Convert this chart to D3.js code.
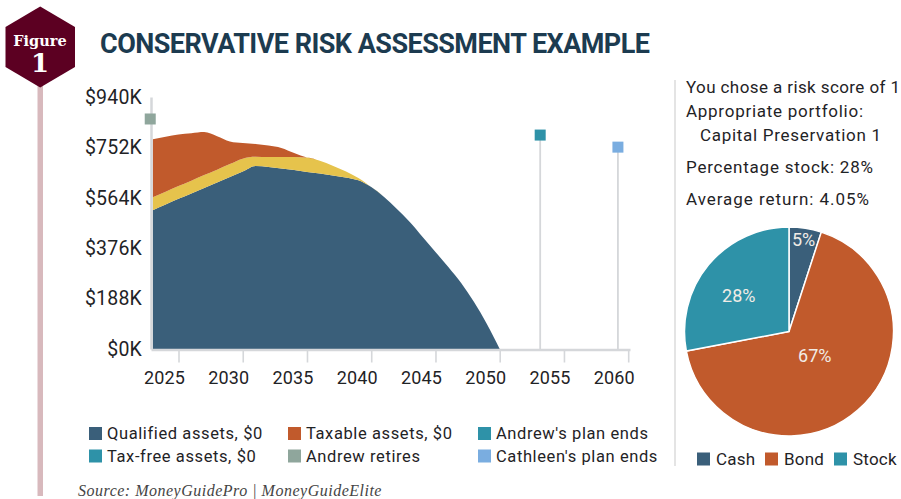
<!DOCTYPE html>
<html>
<head>
<meta charset="utf-8">
<script src="https://cdn.jsdelivr.net/npm/d3@7"></script>
<style>
body { margin: 0; background: #fff; }
svg { display: block; }
text { font-family: Roboto, sans-serif; fill: #1f2326; }
.axis text { font-size: 18px; letter-spacing: 0.1px; }
.legend text { font-size: 16.5px; letter-spacing: 0.6px; }
.note { font-size: 17px; }
</style>
</head>
<body>
<div id="chart"></div>
<script>
var years = [2023,2024,2025,2026,2027,2028,2029,2030,2031,2032,2033,2034,2035,2036,2037,2038,2039,2040,2041,2042,2043,2044,2045,2046,2047,2048,2049,2050];
var qualified = [518,539,560,580,601,621,642,662,683,679,673,668,660,655,647,640,629,604,567,522,474,418,362,306,246,175,93,0];
var taxFree = [48,48,48,48,48,48,48,48,34,37,43,48,54,47,37,23,9,0,0,0,0,0,0,0,0,0,0,0];
var taxable = [216,205,192,177,160,125,84,58,48,43,34,15,0,0,0,0,0,0,0,0,0,0,0,0,0,0,0,0];
var seriesKeys = ['qualified', 'taxFree', 'taxable'];
var yTicks = [0,188,376,564,752,940];
var xTicks = [2025,2030,2035,2040,2045,2050,2055,2060];
var eventNames = ['Andrew retires', "Andrew's plan ends", "Cathleen's plan ends"];
var eventYears = [2022.8, 2053.15, 2059.2];
var eventValues = [858, 798, 753];
var pieLabels = ['Cash', 'Bond', 'Stock'];
var pieValues = [5, 67, 28];
var noteLines = ['You chose a risk score of 1', 'Appropriate portfolio:', 'Capital Preservation 1', 'Percentage stock: 28%', 'Average return: 4.05%'];
var legendLabels = ['Qualified assets, $0', 'Taxable assets, $0', "Andrew's plan ends", 'Tax-free assets, $0', 'Andrew retires', "Cathleen's plan ends"];

var blue = '#3a5f7a', orange = '#c15a2c', yellow = '#e6c34c', teal = '#2e92a8', sage = '#8fa69c', sky = '#7aade0';
var axisGrey = '#d5d7da';

var svg = d3.select('#chart').append('svg')
	.attr('width', 901)
	.attr('height', 499);

// figure badge
svg.append('rect')
	.attr('x', 37.5).attr('y', 80)
	.attr('width', 5.5).attr('height', 416)
	.attr('fill', '#d8b9bd');

svg.append('path')
	.attr('d', 'M40.2,6.5L75,27V67L40.2,87.5L5.5,67V27Z')
	.attr('fill', '#5c0022');

svg.append('text')
	.attr('x', 40).attr('y', 46)
	.attr('text-anchor', 'middle')
	.style('font-family', 'DejaVu Serif')
	.style('font-weight', 'bold')
	.style('font-size', '14.5px')
	.style('fill', '#fff')
	.text('Figure');

svg.append('text')
	.attr('x', 40).attr('y', 72)
	.attr('text-anchor', 'middle')
	.style('font-family', 'DejaVu Serif')
	.style('font-weight', 'bold')
	.style('font-size', '26px')
	.style('fill', '#fff')
	.text('1');

svg.append('text')
	.attr('x', 100).attr('y', 53)
	.attr('textLength', 550)
	.style('font-size', '27px')
	.style('font-weight', 'bold')
	.style('fill', '#1c3b50')
	.text('CONSERVATIVE RISK ASSESSMENT EXAMPLE');

// main chart
var x = d3.scaleLinear().domain([2025, 2060]).range([178.5, 628.2]);
var y = d3.scaleLinear().domain([0, 940]).range([349, 97]);

var table = years.map(function(d, i) {
	return {year: d, qualified: qualified[i], taxFree: taxFree[i], taxable: taxable[i]};
});

var stacked = d3.stack().keys(seriesKeys)(table);
var areaColors = [blue, yellow, orange];

var area = d3.area()
	.curve(d3.curveMonotoneX)
	.x(function(d) { return x(d.data.year); })
	.y0(function(d) { return y(d[0]); })
	.y1(function(d) { return y(d[1]); });

svg.selectAll('.layer')
	.data(stacked)
	.enter().append('path')
	.attr('class', 'layer')
	.attr('fill', function(d, i) { return areaColors[i]; })
	.attr('d', area);

// plan end lines and markers
var eventColors = [sage, teal, sky];
svg.selectAll('.event-line')
	.data(eventYears.slice(1))
	.enter().append('line')
	.attr('class', 'event-line')
	.attr('x1', function(d) { return x(d); })
	.attr('x2', function(d) { return x(d); })
	.attr('y1', function(d, i) { return y(eventValues[i + 1]); })
	.attr('y2', y(0))
	.attr('stroke', axisGrey)
	.attr('stroke-width', 1.8);

var xAxisScale = d3.scaleLinear()
	.domain([x.invert(151), x.invert(630)])
	.range([151, 630]);

var xAxis = svg.append('g')
	.attr('class', 'axis')
	.attr('transform', 'translate(0,349.5)')
	.call(d3.axisBottom(xAxisScale).tickValues(xTicks).tickFormat(d3.format('d')).tickSize(13).tickSizeOuter(0));

xAxis.select('.domain').attr('stroke', axisGrey).attr('stroke-width', 2.5);
xAxis.selectAll('.tick line').attr('stroke', axisGrey).attr('stroke-width', 1.6);
xAxis.selectAll('.tick text')
	.attr('dx', -14.5)
	.attr('y', 22)
	.style('fill', '#1f2326');

var yAxis = svg.append('g')
	.attr('class', 'axis')
	.attr('transform', 'translate(151,0)')
	.call(d3.axisLeft(y).tickValues(yTicks).tickFormat(function(d) { return '$' + d + 'K'; }).tickSize(0));

yAxis.select('.domain').attr('stroke', axisGrey).attr('stroke-width', 2.5);
yAxis.selectAll('.tick text')
	.attr('x', -9)
	.style('font-size', '19.5px')
	.style('letter-spacing', '0.2px')
	.style('fill', '#1f2326');

svg.selectAll('.event-mark')
	.data(eventYears)
	.enter().append('rect')
	.attr('class', 'event-mark')
	.attr('x', function(d) { return x(d) - 5.5; })
	.attr('y', function(d, i) { return y(eventValues[i]) - 5.5; })
	.attr('width', 11)
	.attr('height', 11)
	.attr('fill', function(d, i) { return eventColors[i]; });

// chart legend
var legendColors = [blue, orange, teal, teal, sage, sky];
var legendCols = [89, 288, 478];
var legend = svg.append('g').attr('class', 'legend');

legendLabels.forEach(function(label, i) {
	var lx = legendCols[i % 3],
		ly = i < 3 ? 433.5 : 456;
	legend.append('rect')
		.attr('x', lx).attr('y', ly - 6.5)
		.attr('width', 13).attr('height', 13)
		.attr('fill', legendColors[i]);
	legend.append('text')
		.attr('x', lx + 18).attr('y', ly)
		.attr('dy', '.35em')
		.text(label);
});

// divider and notes
svg.append('line')
	.attr('x1', 675).attr('x2', 675)
	.attr('y1', 80).attr('y2', 466)
	.attr('stroke', '#dedede')
	.attr('stroke-width', 1.6);

var noteX = [686, 686, 700, 686, 686],
	noteY = [87, 111, 135, 167, 199],
	noteW = [214, 177, 181, 187, 183];

svg.selectAll('.note-line')
	.data(noteLines)
	.enter().append('text')
	.attr('class', 'note note-line')
	.attr('x', function(d, i) { return noteX[i]; })
	.attr('y', function(d, i) { return noteY[i]; })
	.attr('dy', '.35em')
	.attr('textLength', function(d, i) { return noteW[i]; })
	.text(function(d) { return d; });

// pie
var pieColors = [blue, orange, teal];
var labelRadius = [93, 33, 62];
var labelNudge = [[0, 0], [4, -1], [-2.5, 4]];
var pieG = svg.append('g').attr('transform', 'translate(789,331.5)');
var pie = d3.pie().sort(null)(pieValues);
var arc = d3.arc().innerRadius(0).outerRadius(104.5);

pieG.selectAll('path')
	.data(pie)
	.enter().append('path')
	.attr('d', arc)
	.attr('fill', function(d, i) { return pieColors[i]; })
	.attr('stroke', '#fff')
	.attr('stroke-width', 1.5);

pieG.selectAll('text')
	.data(pie)
	.enter().append('text')
	.attr('transform', function(d, i) {
		var c = d3.arc().innerRadius(labelRadius[i]).outerRadius(labelRadius[i]).centroid(d);
		return 'translate(' + (c[0] + labelNudge[i][0]) + ',' + (c[1] + labelNudge[i][1]) + ')';
	})
	.attr('text-anchor', 'middle')
	.attr('dy', '.35em')
	.style('font-size', '18px')
	.style('fill', '#f1ece6')
	.text(function(d) { return d.value + '%'; });

var pieLegendX = [697, 765, 834];
pieLabels.forEach(function(label, i) {
	svg.append('rect')
		.attr('x', pieLegendX[i]).attr('y', 452.5)
		.attr('width', 13).attr('height', 13)
		.attr('fill', pieColors[i]);
	svg.append('text')
		.attr('class', 'note')
		.attr('x', pieLegendX[i] + 19).attr('y', 459)
		.attr('dy', '.35em')
		.style('letter-spacing', '0.2px')
		.text(label);
});

svg.append('text')
	.attr('x', 78).attr('y', 496)
	.style('font-family', 'Liberation Serif')
	.style('font-style', 'italic')
	.style('font-size', '16px')
	.style('letter-spacing', '0.5px')
	.style('fill', '#444')
	.text('Source: MoneyGuidePro | MoneyGuideElite');
</script>
</body>
</html>
